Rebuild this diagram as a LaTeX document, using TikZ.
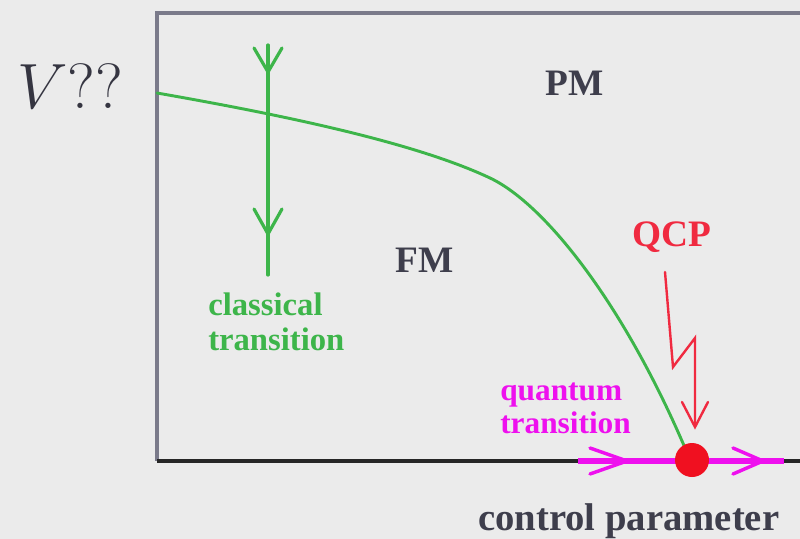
\RequirePackage{fix-cm}
\documentclass[tikz,border=0pt]{standalone}
\usepackage{fontspec}
\setmainfont{Liberation Serif}
\definecolor{bg}{HTML}{EBEBEB}
\definecolor{framec}{HTML}{7A7A8A}
\definecolor{grn}{HTML}{3DB54A}
\definecolor{mag}{HTML}{EE10EE}
\definecolor{qred}{HTML}{F02A40}
\definecolor{dotred}{HTML}{F01020}
\definecolor{txt}{HTML}{3E3E4C}
\tikzset{
  lbl/.style={inner sep=0pt, font=\bfseries},
  grline/.style={draw=grn, line width=2.4pt, line cap=round, line join=round},
  mgline/.style={draw=mag, line width=2.6pt, line cap=round, line join=round},
  rdline/.style={draw=qred, line width=1.8pt, line cap=round, line join=miter},
}
\begin{document}
\begin{tikzpicture}[x=0.75pt, y=-0.75pt]
\fill[bg] (0,0) rectangle (800,539);
\useasboundingbox (0,0) rectangle (800,539);
% frame
\draw[framec, line width=3pt] (800,13) -- (157,13) -- (157,461);
\draw[black!85, line width=2.4pt] (157,461) -- (800,461);
% phase boundary
\coordinate (c0) at (157,93);
\coordinate (c1) at (490,178);
\coordinate (qcp) at (692,460);
\draw[grline, line width=2.2pt] (c0) .. controls (300,118) and (420,145) .. (c1)
   .. controls (545,204) and (625,305) .. (688,455);
% classical transition arrow
\coordinate (ca) at (268,45);
\coordinate (cb) at (268,275);
\draw[grline] (ca) -- (cb);
\draw[grline] (254,48) -- (268,72) -- (282,48);
\draw[grline] (254,209) -- (268,234) -- (282,209);
% quantum transition arrow
\coordinate (qa) at (578,461);
\coordinate (qb) at (784,461);
\draw[mag, line width=5pt] (qa) -- (qb);
\draw[mgline] (590,448) -- (627,461) -- (590,474);
\draw[mgline] (733,448) -- (763,461) -- (733,474);
% QCP dot
\fill[dotred] (qcp) circle[radius=17];
% lightning
\node[lbl, text=qred, font=\bfseries\fontsize{28}{30}\selectfont] (QCP) at (672,237) {QCP};
\draw[rdline] (665,272) -- (673,367) -- (695,338) -- (695,427);
\draw[rdline] (682,402) -- (695,427) -- (708,402);
% labels
\node[lbl, text=txt, font=\bfseries\fontsize{28}{30}\selectfont] (PM) at (575,83) {PM};
\node[lbl, text=txt, font=\bfseries\fontsize{28}{30}\selectfont] (FM) at (425,260) {FM};
\node[inner sep=0pt, text=txt!85!black, font=\fontsize{48}{50}\selectfont] (V) at (70,86) {$V??$};
\node[lbl, text=grn, anchor=base west, font=\bfseries\fontsize{24.5}{26}\selectfont] (cl1) at (208,315) {classical};
\node[lbl, text=grn, anchor=base west, font=\bfseries\fontsize{24.5}{26}\selectfont] (cl2) at (208,350) {transition};
\node[lbl, text=mag, anchor=base west, font=\bfseries\fontsize{23.5}{25}\selectfont] (qu1) at (500,400) {quantum};
\node[lbl, text=mag, anchor=base west, font=\bfseries\fontsize{23.5}{25}\selectfont] (qu2) at (500,433) {transition};
\node[lbl, text=txt, anchor=base west, font=\bfseries\fontsize{29}{31}\selectfont] (cp) at (478,530) {control parameter};
\end{tikzpicture}
\end{document}
